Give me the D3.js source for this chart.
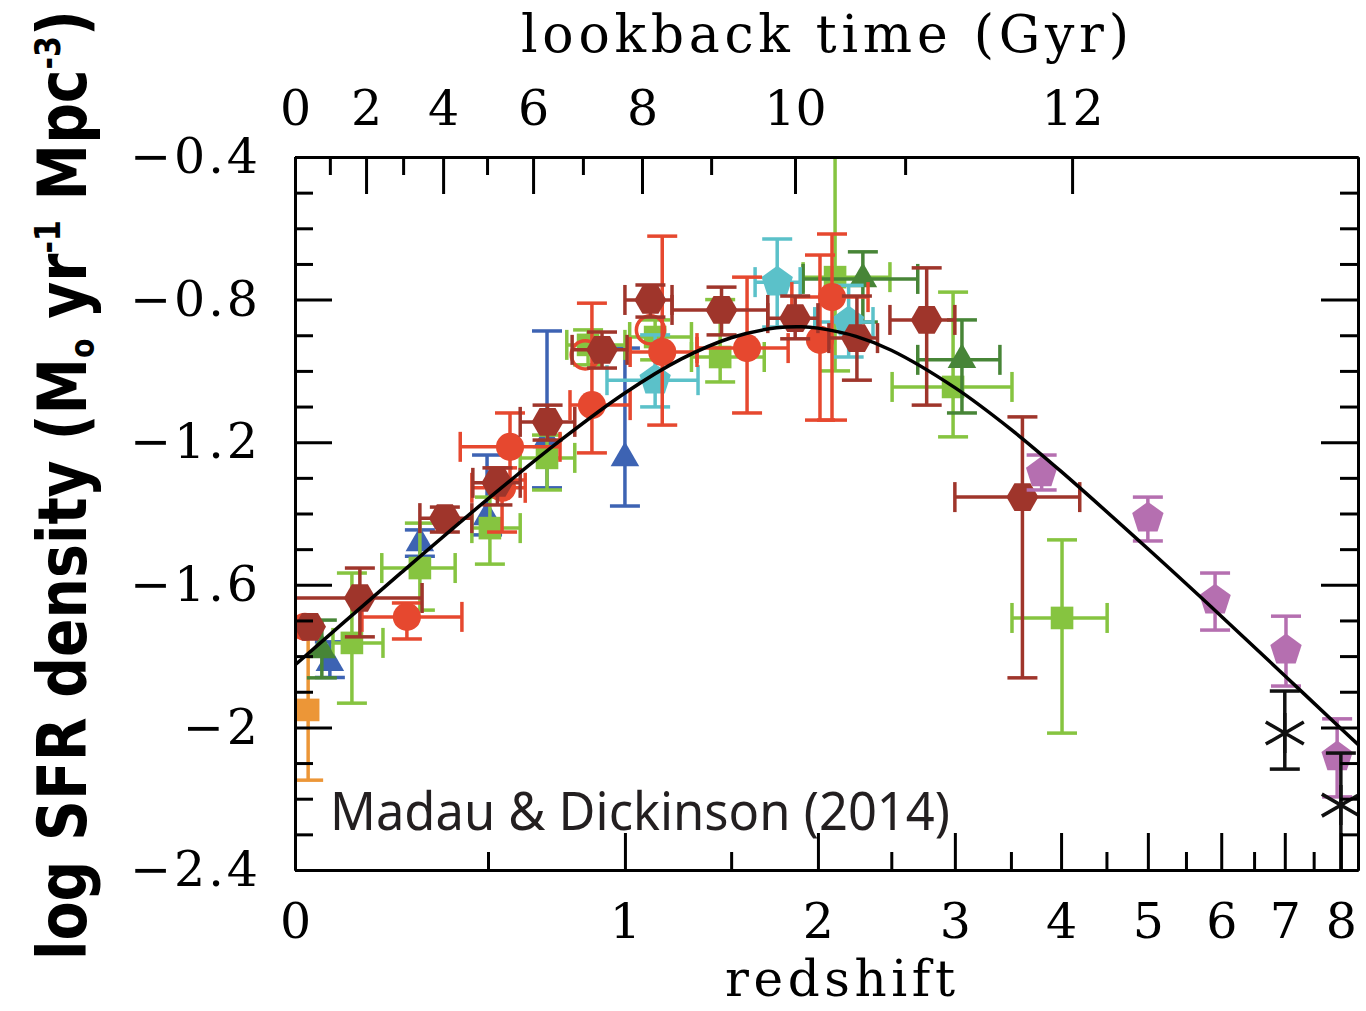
<!DOCTYPE html>
<html>
<head>
<meta charset="utf-8">
<script src="https://cdn.jsdelivr.net/npm/d3@7"></script>
<style>
  body { margin: 0; background: #fff; }
  .tick text { font-family: "DejaVu Serif", serif; font-size: 49px; fill: #000; }
  .axis path, .axis line { stroke: #000; stroke-width: 3; }
</style>
</head>
<body>
<div id="graphicContainer"></div>
<script>
// fit curve (redshift, log SFR density)
const zCurve   = [0, 0.1, 0.25, 0.5, 0.75, 1, 1.25, 1.5, 1.75, 1.9, 2, 2.25, 2.5, 3, 3.5, 4, 5, 6, 7, 8, 8.33];
const logCurve = [-1.825, -1.714, -1.566, -1.359, -1.193, -1.062, -0.967, -0.907, -0.879, -0.876, -0.880, -0.903, -0.942, -1.047, -1.164, -1.282, -1.499, -1.688, -1.855, -2.003, -2.048];

// each row: z, zLow, zHigh, logSFR, logLow, logHigh
const darkRedHex = [
  [0.032, null, null, -1.718, null, null],
  [0.146, 0, 0.306, -1.637, -1.553, -1.746],
  [0.37, 0.30, 0.45, -1.413, -1.382, -1.452],
  [0.53, 0.453, 0.605, -1.314, -1.272, -1.376],
  [0.70, 0.605, 0.80, -1.143, -1.096, -1.194],
  [0.906, 0.79, 1.009, -0.941, -0.891, -0.992],
  [1.11, 1.0, 1.208, -0.801, -0.759, -0.849],
  [1.45, 1.208, 1.70, -0.829, -0.765, -0.899],
  [1.86, 1.70, 2.0, -0.852, -0.79, -0.91],
  [2.256, 2.07, 2.40, -0.908, -0.79, -1.026],
  [2.77, 2.49, 3.0, -0.857, -0.711, -1.096],
  [3.61, 3.0, 4.2, -1.354, -1.129, -1.861]
];
const redCircle = [
  [0.021, null, null, -1.718, null, null],
  [0.265, 0.151, 0.42, -1.69, -1.651, -1.752],
  [0.545, 0.45, 0.622, -1.328, -1.272, -1.452],
  [0.571, 0.415, 0.745, -1.213, -1.118, -1.306],
  [0.866, 0.782, 1.022, -1.096, -0.81, -1.23],
  [1.163, 1.022, 1.327, -0.947, -0.622, -1.152],
  [1.585, 1.327, 1.818, -0.936, -0.737, -1.118],
  [2.013, null, null, -0.913, -0.675, -1.138],
  [2.09, 1.84, 2.333, -0.793, -0.616, -1.138]
];
const redOpen = [
  [0.84, null, null, -0.955, null, null],
  [1.11, null, null, -0.885, null, null]
];
const greenSquare = [
  [0.127, 0.083, 0.203, -1.763, -1.567, -1.932],
  [0.30, 0.20, 0.40, -1.553, -1.427, -1.671],
  [0.506, 0.45, 0.605, -1.441, -1.354, -1.542],
  [0.698, 0.605, 0.80, -1.244, -1.18, -1.334],
  [0.851, 0.77, 1.0, -0.927, -0.885, -0.983],
  [1.131, 1.02, 1.30, -0.905, -0.857, -0.969],
  [1.443, 1.30, 1.68, -0.961, -0.80, -1.031],
  [2.11, 1.908, 2.49, -0.737, -0.3, -1.0],
  [2.985, 2.506, 3.51, -1.045, -0.779, -1.185],
  [4.01, 3.51, 4.508, -1.693, -1.474, -2.016]
];
const darkGreenTri = [
  [0.058, null, null, -1.783, -1.699, -1.861],
  [2.297, 1.908, 2.70, -0.742, -0.666, -0.863],
  [3.06, 2.70, 3.397, -0.969, -0.857, -1.118]
];
const blueTri = [
  [0.076, null, null, -1.819, -1.76, -1.86],
  [0.30, null, null, -1.483, -1.446, -1.52],
  [0.497, null, null, -1.41, -1.236, -1.46],
  [0.698, null, null, -1.194, -0.888, -1.328],
  [1.0, null, null, -1.244, -0.936, -1.379]
];
const cyanPent = [
  [1.131, 0.926, 1.332, -1.026, -0.899, -1.101],
  [1.754, 1.629, 1.89, -0.751, -0.63, -0.877],
  [2.2, 1.98, 2.368, -0.863, -0.76, -0.961]
];
const magentaPent = [
  [3.80, null, null, -1.286, -1.236, -1.334],
  [5.0, null, null, -1.413, -1.354, -1.477],
  [5.91, null, null, -1.643, -1.567, -1.727],
  [7.02, null, null, -1.783, -1.688, -1.884],
  [7.93, null, null, -2.083, -1.976, -2.195]
];
const blackStar = [
  [7.0, null, null, -2.016, -1.898, -2.117],
  [8.0, null, null, -2.218, -2.072, -2.5]
];
const orangeSquare = [
  [0.028, null, null, -1.951, -1.746, -2.148]
];

const zMajor = [0, 1, 2, 3, 4, 5, 6, 7, 8];
const zMinor = [0.5, 1.5, 2.5, 3.5, 4.5, 5.5, 6.5, 7.5];
const yMajor = [-0.4, -0.8, -1.2, -1.6, -2, -2.4];
const yMinor = d3.range(-0.5, -2.35, -0.1).map(v => +v.toFixed(1)).filter(v => !yMajor.includes(v));
// lookback time ticks (Gyr) and the redshift where each one sits
const gyrTicks = [0, 1, 2, 3, 4, 5, 6, 7, 8, 9, 10, 11, 12];
const gyrTickZ = [0, 0.076, 0.161, 0.255, 0.365, 0.497, 0.649, 0.831, 1.073, 1.397, 1.859, 2.603, 4.117];

function renderChart() {
    const svg = d3.select("#graphicContainer").append("svg")
        .attr("width", 1366)
        .attr("height", 1011)
        .style("background", "#fff");

    const left = 295, right = 1358, top = 157, bottom = 870;

    // x axis is log(1+z)
    const x = d3.scaleLog().domain([1, 9.33]).range([left, right]);
    const y = d3.scaleLinear().domain([-0.4, -2.4]).range([top, bottom]);
    const px = z => x(1 + z);

    svg.append("clipPath").attr("id", "plotClip")
        .append("rect").attr("x", left).attr("y", top)
        .attr("width", right - left).attr("height", bottom - top);

    const g = svg.append("g").attr("clip-path", "url(#plotClip)");

    function polygon(n, r, rot) {
        const pts = d3.range(n).map(i => {
            const a = rot + i * 2 * Math.PI / n;
            return [r * Math.cos(a), r * Math.sin(a)];
        });
        return "M" + pts.map(p => p[0].toFixed(2) + "," + p[1].toFixed(2)).join("L") + "Z";
    }
    const shapes = {
        hex: polygon(6, 16, 0),
        pent: polygon(5, 16.5, -Math.PI / 2),
        tri: polygon(3, 16.5, -Math.PI / 2),
        square: polygon(4, 16, Math.PI / 4),
        circle: d3.symbol(d3.symbolCircle, 620)(),
        star: "M0,-20L0,20M-19,-11L19,11M-19,11L19,-11"
    };

    function drawSeries(data, color, shape, hollow) {
        const s = g.append("g");
        const cap = 15;
        data.forEach(d => {
            const [z, zlo, zhi, v, vlo, vhi] = d;
            const cx = px(z), cy = y(v);
            if (zlo !== null) {
                s.append("line").attr("x1", px(zlo)).attr("x2", px(zhi))
                    .attr("y1", cy).attr("y2", cy);
                [zlo, zhi].forEach(e => s.append("line")
                    .attr("x1", px(e)).attr("x2", px(e))
                    .attr("y1", cy - cap).attr("y2", cy + cap));
            }
            if (vlo !== null) {
                s.append("line").attr("x1", cx).attr("x2", cx)
                    .attr("y1", y(vlo)).attr("y2", y(vhi));
                [vlo, vhi].forEach(e => s.append("line")
                    .attr("x1", cx - cap).attr("x2", cx + cap)
                    .attr("y1", y(e)).attr("y2", y(e)));
            }
        });
        s.selectAll("line").attr("stroke", color).attr("stroke-width", 3.5);

        s.selectAll("path.mark")
            .data(data)
            .enter().append("path")
            .attr("class", "mark")
            .attr("d", shapes[shape])
            .attr("transform", d => `translate(${px(d[0])},${y(d[3])})`)
            .attr("fill", shape === "star" || hollow ? "none" : color)
            .attr("stroke", shape === "star" || hollow ? color : "none")
            .attr("stroke-width", 3.5);
    }

    drawSeries(orangeSquare, "#ec9637", "square");
    drawSeries(blueTri, "#3d63b3", "tri");
    drawSeries(greenSquare, "#86c440", "square");
    drawSeries(darkGreenTri, "#478537", "tri");
    drawSeries(cyanPent, "#5bc1c9", "pent");
    drawSeries(redOpen, "#e6482f", "circle", true);
    drawSeries(redCircle, "#e6482f", "circle");
    drawSeries(darkRedHex, "#9f352b", "hex");
    drawSeries(magentaPent, "#b56fb0", "pent");
    drawSeries(blackStar, "#111", "star");

    // fit curve
    const line = d3.line()
        .x((d, i) => px(zCurve[i]))
        .y(d => y(d))
        .curve(d3.curveCatmullRom);
    g.append("path")
        .attr("d", line(logCurve))
        .attr("fill", "none")
        .attr("stroke", "#000")
        .attr("stroke-width", 3.5);

    // axes (ticks point inward)
    const fmtY = v => (v < 0 ? "\u2212" : "") + d3.format("")(Math.abs(v));
    svg.append("g").attr("class", "axis").attr("transform", `translate(${left},0)`)
        .call(d3.axisLeft(y).tickValues(yMajor).tickSizeInner(-37).tickSizeOuter(0)
            .tickPadding(34).tickFormat(fmtY))
        .selectAll("text").style("letter-spacing", "3px");
    svg.append("g").attr("class", "axis").attr("transform", `translate(${left},0)`)
        .call(d3.axisLeft(y).tickValues(yMinor).tickSizeInner(-18).tickSizeOuter(0).tickFormat(""));
    svg.append("g").attr("class", "axis").attr("transform", `translate(${right},0)`)
        .call(d3.axisRight(y).tickValues(yMajor).tickSizeInner(-37).tickSizeOuter(0).tickFormat(""));
    svg.append("g").attr("class", "axis").attr("transform", `translate(${right},0)`)
        .call(d3.axisRight(y).tickValues(yMinor).tickSizeInner(-18).tickSizeOuter(0).tickFormat(""));

    svg.append("g").attr("class", "axis").attr("transform", `translate(0,${bottom})`)
        .call(d3.axisBottom(x).tickValues(zMajor.map(z => 1 + z)).tickSizeInner(-37).tickSizeOuter(0)
            .tickPadding(33).tickFormat(v => Math.round(v - 1)));
    svg.append("g").attr("class", "axis").attr("transform", `translate(0,${bottom})`)
        .call(d3.axisBottom(x).tickValues(zMinor.map(z => 1 + z)).tickSizeInner(-18).tickSizeOuter(0).tickFormat(""));

    const gyrMajorZ = gyrTickZ.filter((z, i) => gyrTicks[i] % 2 === 0);
    const gyrMinorZ = gyrTickZ.filter((z, i) => gyrTicks[i] % 2 === 1);
    svg.append("g").attr("class", "axis").attr("transform", `translate(0,${top})`)
        .call(d3.axisTop(x).tickValues(gyrMajorZ.map(z => 1 + z)).tickSizeInner(-37).tickSizeOuter(0)
            .tickPadding(32).tickFormat(v => gyrTicks[gyrTickZ.indexOf(+(v - 1).toFixed(3))]));
    svg.append("g").attr("class", "axis").attr("transform", `translate(0,${top})`)
        .call(d3.axisTop(x).tickValues(gyrMinorZ.map(z => 1 + z)).tickSizeInner(-18).tickSizeOuter(0).tickFormat(""));

    svg.selectAll(".axis .domain").attr("stroke-width", 3.5);

    // axis titles
    svg.append("text")
        .attr("x", 825).attr("y", 52)
        .attr("text-anchor", "middle")
        .attr("textLength", 608)
        .attr("lengthAdjust", "spacing")
        .style("font-family", "DejaVu Serif, serif")
        .style("font-size", "52px")
        .text("lookback time (Gyr)");

    svg.append("text")
        .attr("x", 840).attr("y", 996)
        .attr("text-anchor", "middle")
        .attr("textLength", 230)
        .attr("lengthAdjust", "spacing")
        .style("font-family", "DejaVu Serif, serif")
        .style("font-size", "50px")
        .text("redshift");

    const yl = svg.append("text")
        .attr("transform", "translate(86,485) rotate(-90)")
        .attr("text-anchor", "middle")
        .attr("textLength", 950)
        .attr("lengthAdjust", "spacingAndGlyphs")
        .style("font-family", "'Liberation Sans Narrow', 'DejaVu Sans Condensed', 'Liberation Sans', sans-serif")
        .style("font-weight", "bold")
        .style("font-size", "68px");
    yl.append("tspan").text("log SFR density (M");
    yl.append("tspan").attr("dy", 8).style("font-size", "34px").text("o");
    yl.append("tspan").attr("dy", -8).text(" yr");
    yl.append("tspan").attr("dy", -26).style("font-size", "36px").text("-1");
    yl.append("tspan").attr("dy", 26).text(" Mpc");
    yl.append("tspan").attr("dy", -26).style("font-size", "36px").text("-3");
    yl.append("tspan").attr("dy", 26).text(")");

    svg.append("text")
        .attr("x", 330).attr("y", 830)
        .attr("textLength", 620)
        .attr("lengthAdjust", "spacingAndGlyphs")
        .style("font-family", "'Noto Sans', 'Open Sans', sans-serif")
        .style("font-size", "52px")
        .style("fill", "#231f20")
        .text("Madau & Dickinson (2014)");
}

renderChart();
</script>
</body>
</html>
